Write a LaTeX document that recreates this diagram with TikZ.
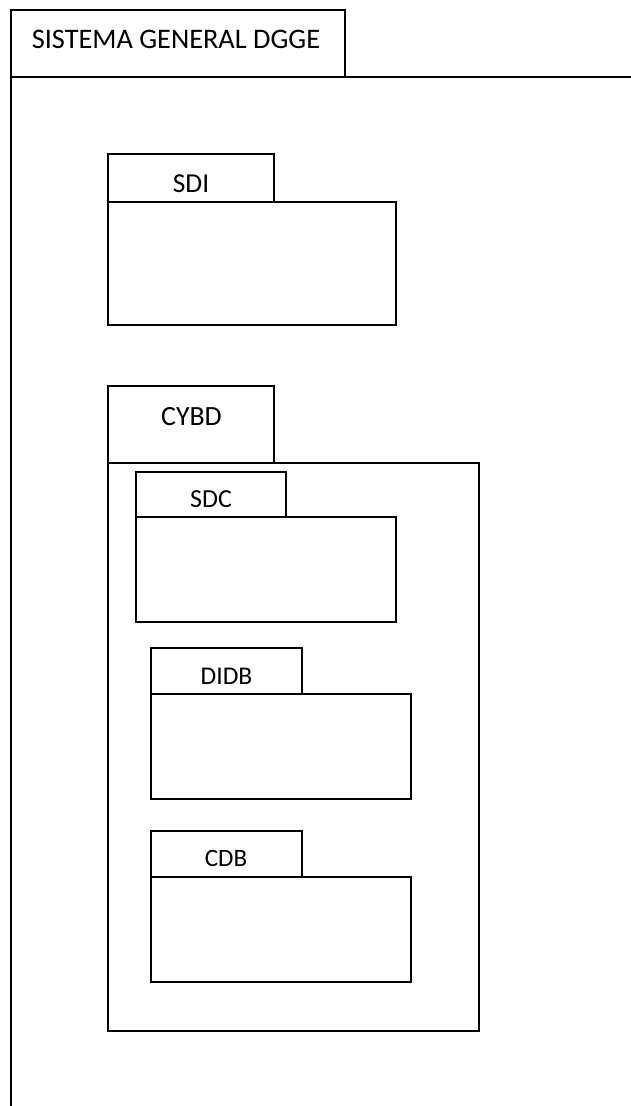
\documentclass[tikz,border=0pt]{standalone}
\usepackage{fontspec}
\setmainfont{Carlito}
\begin{document}
\begin{tikzpicture}[x=1pt,y=-1pt,
  box/.style={draw, line width=1.8pt, inner sep=0pt, outer sep=0pt, anchor=north west},
  lbl/.style={anchor=base, inner sep=0pt, outer sep=0pt}]
\useasboundingbox (0,0) rectangle (630,1106);
% outer frame
\node[box, minimum width=334pt, minimum height=67pt] (title) at (11,10) {};
\node[lbl, font=\fontsize{28.3}{32}\selectfont] (titletxt) at (176,48.3) {SISTEMA GENERAL DGGE};
\coordinate (frameR) at (631,77);
\coordinate (frameB) at (11,1107);
\draw[line width=1.8pt] (title.south west) -- (frameR);
\draw[line width=1.8pt] (title.south west) -- (frameB);
% SDI
\node[box, minimum width=166pt, minimum height=48pt] (sditab) at (108,154) {};
\node[box, minimum width=288pt, minimum height=123pt] (sdi) at (108,202) {};
\node[lbl, font=\fontsize{27.4}{31}\selectfont] (sditxt) at (191,192.3) {SDI};
% CYBD
\node[box, minimum width=166pt, minimum height=77pt] (cybdtab) at (108,386) {};
\node[box, minimum width=371pt, minimum height=568pt] (cybd) at (108,463) {};
\node[lbl, font=\fontsize{27.8}{31}\selectfont] (cybdtxt) at (191.5,425) {CYBD};
% SDC
\node[box, minimum width=150pt, minimum height=45pt] (sdctab) at (136,472) {};
\node[box, minimum width=260pt, minimum height=105pt] (sdc) at (136,517) {};
\node[lbl, font=\fontsize{26}{30}\selectfont] (sdctxt) at (211,507.3) {SDC};
% DIDB
\node[box, minimum width=151pt, minimum height=46pt] (didbtab) at (151,648) {};
\node[box, minimum width=260pt, minimum height=105pt] (didb) at (151,694) {};
\node[lbl, font=\fontsize{25.5}{30}\selectfont] (didbtxt) at (226.5,684.3) {DIDB};
% CDB
\node[box, minimum width=151pt, minimum height=46pt] (cdbtab) at (151,831) {};
\node[box, minimum width=260pt, minimum height=105pt] (cdb) at (151,877) {};
\node[lbl, font=\fontsize{25}{30}\selectfont] (cdbtxt) at (226,866) {CDB};
\end{tikzpicture}
\end{document}
